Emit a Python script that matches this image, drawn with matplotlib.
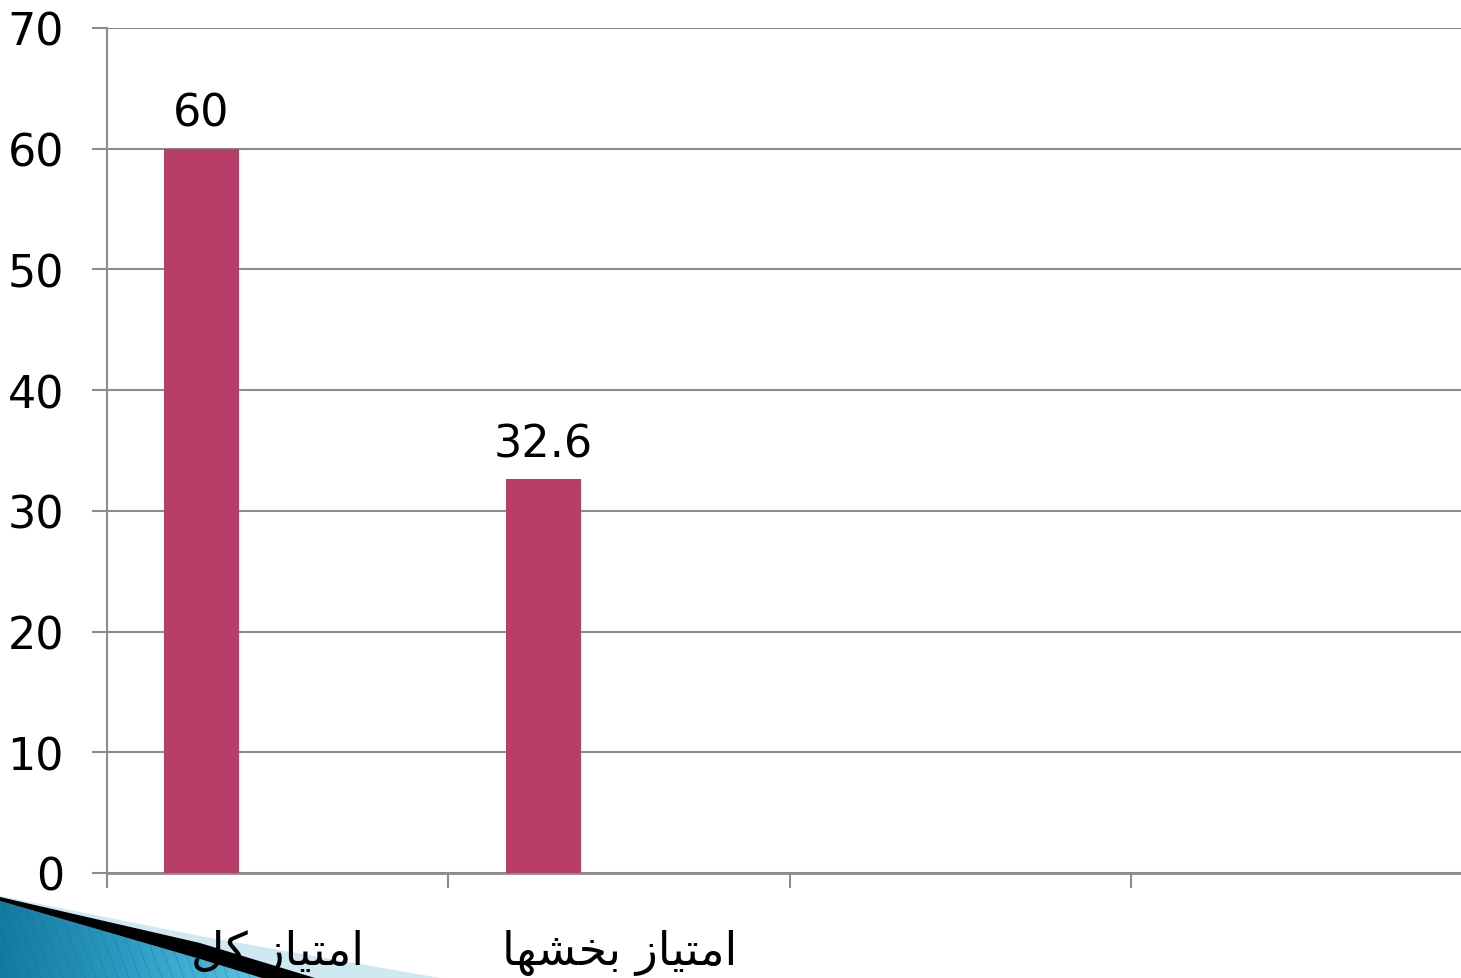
import numpy as np
import matplotlib
matplotlib.use("Agg")
import matplotlib.pyplot as plt
from matplotlib.patches import Polygon
from matplotlib.colors import LinearSegmentedColormap

plt.rcParams['font.family'] = ['DejaVu Sans']

# داده‌ها
categories = ['امتیاز کل', 'امتیاز بخشها', '', '']
values = [60, 32.6]
value_labels = ['60', '32.6']
y_ticks = [0, 10, 20, 30, 40, 50, 60, 70]

bar_color = '#B83D68'
grid_color = '#8C8C8C'

# شکل‌دهی ساده حروف فارسی (matplotlib خودش حروف را به هم نمی‌چسباند)
FORMS = {
    'ا': ('\uFE8D', '\uFE8E', None, None),
    'ز': ('\uFEAF', '\uFEB0', None, None),
    'م': ('\uFEE1', '\uFEE2', '\uFEE3', '\uFEE4'),
    'ت': ('\uFE95', '\uFE96', '\uFE97', '\uFE98'),
    'ی': ('\uFBFC', '\uFBFD', '\uFBFE', '\uFBFF'),
    'ک': ('\uFB8E', '\uFB8F', '\uFB90', '\uFB91'),
    'ل': ('\uFEDD', '\uFEDE', '\uFEDF', '\uFEE0'),
    'ب': ('\uFE8F', '\uFE90', '\uFE91', '\uFE92'),
    'خ': ('\uFEA5', '\uFEA6', '\uFEA7', '\uFEA8'),
    'ش': ('\uFEB5', '\uFEB6', '\uFEB7', '\uFEB8'),
    'ه': ('\uFEE9', '\uFEEA', '\uFEEB', '\uFEEC'),
}


def shape_fa(s):
    out = []
    for i, c in enumerate(s):
        if c not in FORMS:
            out.append(c)
            continue
        prev = s[i - 1] if i > 0 else ''
        nxt = s[i + 1] if i + 1 < len(s) else ''
        pj = prev in FORMS and FORMS[prev][2] is not None
        nj = nxt in FORMS
        iso, fin, ini, med = FORMS[c]
        if pj and nj and med:
            out.append(med)
        elif pj:
            out.append(fin)
        elif nj and ini:
            out.append(ini)
        else:
            out.append(iso)
    return ''.join(out)[::-1]


W, H = 1461, 979
fig = plt.figure(figsize=(W / 100, H / 100), dpi=100)

# تزئین آبی پایین چپ
deco = fig.add_axes([0, 0, 450 / W, 100 / H])
deco.axis('off')
deco.set_zorder(0)
light = Polygon([(0, 897), (200, 937), (440, 979), (0, 979)], closed=True,
                facecolor='#CFE9F3', edgecolor='none', zorder=0)
deco.add_patch(light)
dark_poly = Polygon([(0, 902), (200, 960), (262, 979), (0, 979)], closed=True,
                    facecolor='none', edgecolor='none', zorder=0)
deco.add_patch(dark_poly)
cmap = LinearSegmentedColormap.from_list('b', ['#137AA0', '#2E9CC4', '#5CC5E6'])
gx = np.linspace(0, 1, 300)
grad = np.tile(gx, (60, 1))
im = deco.imshow(grad, extent=[0, 265, 979, 899], cmap=cmap, aspect='auto',
                 zorder=0.5)
im.set_clip_path(dark_poly)
for k in range(-5, 30):
    x0 = k * 11
    deco.plot([x0, x0 + 30], [899, 979], color='#0E6A8C', lw=0.6, alpha=0.35,
              clip_path=dark_poly, zorder=0.7)
black = Polygon([(0, 898), (200, 944), (315, 979), (262, 979), (200, 960), (0, 902)],
                closed=True, facecolor='black', edgecolor='none', zorder=1)
deco.add_patch(black)
deco.set_xlim(0, 450)
deco.set_ylim(979, 879)

# نمودار اصلی
ax = fig.add_axes([107 / W, 1 - 874 / H, 1366 / W, 845 / H])
ax.set_zorder(1)
ax.set_facecolor('none')

x_pos = np.arange(len(values)) + 0.167 + 0.11
bars = ax.bar(x_pos, values, width=0.22, color=bar_color, zorder=3)
for b, lab in zip(bars, value_labels):
    ax.annotate(lab, (b.get_x() + b.get_width() / 2, b.get_height()),
                xytext=(0, 10), textcoords='offset points',
                ha='center', va='bottom', fontsize=32, color='black')

ax.set_xlim(0, len(categories))
ax.set_ylim(0, 70)
ax.set_yticks(y_ticks)
ax.set_xticks(np.arange(len(categories) + 1))
ax.set_xticklabels([])
ax.set_xticks(np.arange(len(categories)) + 0.5, minor=True)
ax.set_xticklabels([shape_fa(c) for c in categories], minor=True)

ax.tick_params(axis='y', length=11, width=1.5, color=grid_color,
               labelsize=32, pad=20)
ax.tick_params(axis='x', which='major', length=11, width=1.5, color=grid_color)
ax.tick_params(axis='x', which='minor', length=0, labelsize=33, pad=40)

ax.grid(axis='y', color=grid_color, lw=1.5, zorder=0)
ax.set_axisbelow(True)
for s in ['top', 'right']:
    ax.spines[s].set_visible(False)
ax.spines['left'].set_color(grid_color)
ax.spines['left'].set_linewidth(1.5)
ax.spines['bottom'].set_color(grid_color)
ax.spines['bottom'].set_linewidth(2)

fig.savefig('out.png', dpi=100)
